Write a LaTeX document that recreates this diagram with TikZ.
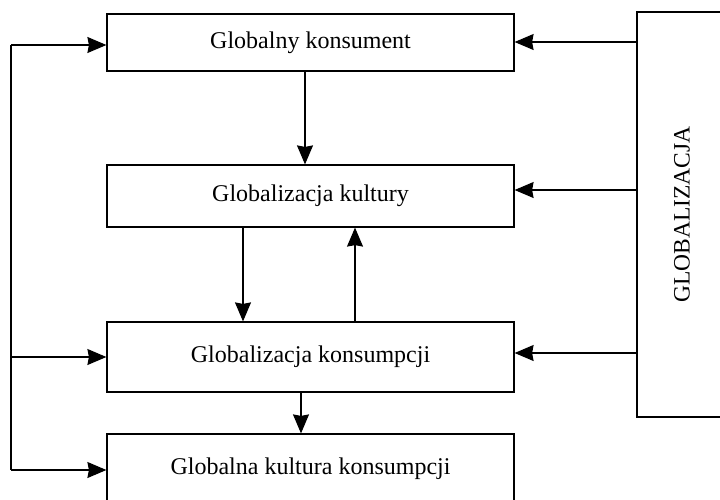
\documentclass[tikz,border=0pt]{standalone}
\usepackage{fontspec}
\setmainfont{Liberation Serif}
\usetikzlibrary{arrows.meta}
\begin{document}
\begin{tikzpicture}[x=1pt,y=-1pt,
  box/.style={draw, line width=1.2pt, minimum width=407pt, inner sep=0pt, font=\fontsize{24}{28}\selectfont, anchor=center},
  arr/.style={-{Stealth[length=19pt,width=16pt,inset=1.5pt]}, line width=1.2pt},
  ln/.style={line width=1.2pt}]
\useasboundingbox (0,0) rectangle (720,499);
\node[box, minimum height=57pt] (b1) at (310.5,42.5) {Globalny konsument};
\node[box, minimum height=62pt] (b2) at (310.5,196) {Globalizacja kultury};
\node[box, minimum height=70pt] (b3) at (310.5,357) {Globalizacja konsumpcji};
\node[box, minimum height=70pt] (b4) at (310.5,469) {Globalna kultura konsumpcji};
\node[draw, line width=1.2pt, minimum width=86pt, minimum height=405pt, inner sep=0pt] (g) at (680,214.5) {};
\node[rotate=90, font=\fontsize{23.5}{27}\selectfont, inner sep=0pt] (gt) at (682,214.5) {GLOBALIZACJA};
% right arrows
\coordinate (r1) at (0,42);
\coordinate (r2) at (0,190);
\coordinate (r3) at (0,353);
\draw[arr] (g.west |- r1) -- (b1.east |- r1);
\draw[arr] (g.west |- r2) -- (b2.east |- r2);
\draw[arr] (g.west |- r3) -- (b3.east |- r3);
% left feedback line
\coordinate (L1) at (11,45);
\coordinate (L3) at (11,357);
\coordinate (L4) at (11,470);
\draw[ln] (L1) -- (L4);
\draw[arr] (L1) -- (b1.west |- L1);
\draw[arr] (L3) -- (b3.west |- L3);
\draw[arr] (L4) -- (b4.west |- L4);
% vertical arrows
\coordinate (x1) at (305,0);
\coordinate (x2) at (243,0);
\coordinate (x3) at (355,0);
\coordinate (x4) at (301,0);
\draw[arr] (b1.south -| x1) -- (b2.north -| x1);
\draw[arr] (b2.south -| x2) -- (b3.north -| x2);
\draw[arr] (b3.north -| x3) -- (b2.south -| x3);
\draw[arr] (b3.south -| x4) -- (b4.north -| x4);
\end{tikzpicture}
\end{document}
